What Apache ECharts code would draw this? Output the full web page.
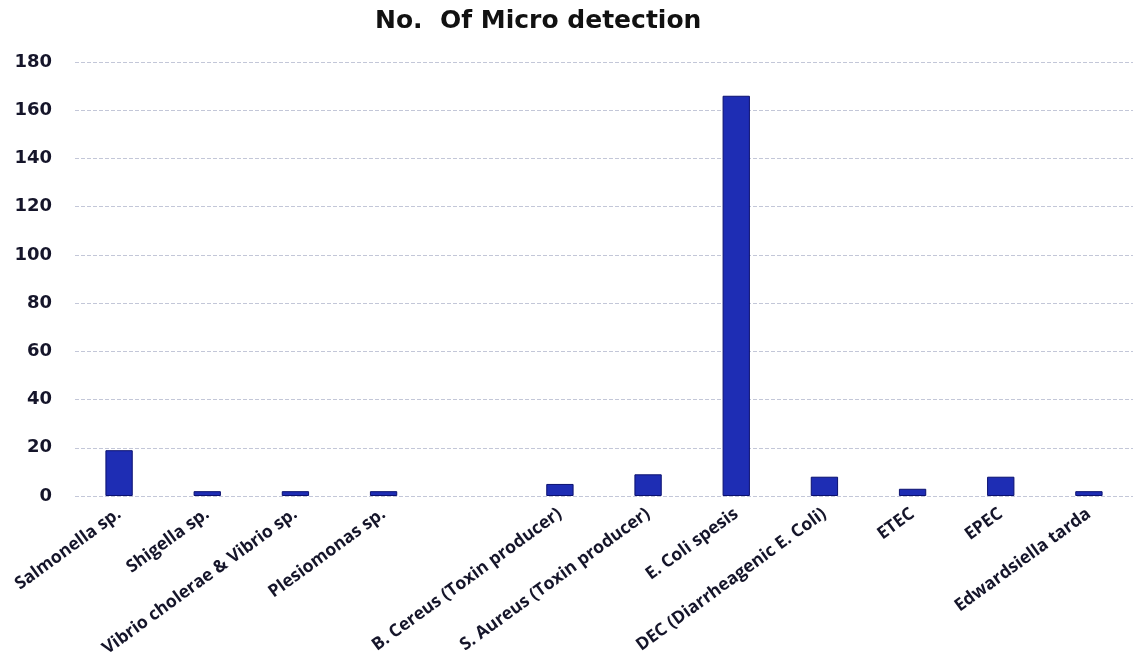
<!DOCTYPE html>
<html>
<head>
<meta charset="utf-8">
<script src="https://cdn.jsdelivr.net/npm/echarts@6/dist/echarts.min.js"></script>
<style>
  html,body{margin:0;padding:0;background:#fff;}
  #chart{width:1133px;height:666px;}
</style>
</head>
<body>
<div id="chart"></div>
<script>
// categories (one blank slot between Plesiomonas and B. Cereus, as in the source)
var categories = ['Salmonella sp.', 'Shigella sp.', 'Vibrio cholerae & Vibrio sp.', 'Plesiomonas sp.', '',
  'B. Cereus (Toxin producer)', 'S. Aureus (Toxin producer)', 'E. Coli spesis',
  'DEC (Diarrheagenic E. Coli)', 'ETEC', 'EPEC', 'Edwardsiella tarda']
var detections = [19, 2, 2, 2, null, 5, 9, 166, 8, 3, 8, 2]
var yTicks = [0, 20, 40, 60, 80, 100, 120, 140, 160, 180]

var chart = echarts.init(document.getElementById('chart'))
chart.setOption({
  animation: false,
  title: {
    text: 'No.  Of Micro detection',
    left: 370,
    top: 4,
    textStyle: {fontFamily: 'DejaVu Sans', fontWeight: 'bold', fontSize: 25, color: '#111'}
  },
  grid: {left: 75, right: 0, top: 62, bottom: 170, outerBoundsMode: 'none'},
  xAxis: {
    type: 'category',
    data: categories,
    axisLine: {show: false},
    axisTick: {show: false},
    axisLabel: {
      interval: 0,
      rotate: 36,
      margin: 16,
      fontFamily: 'Open Sans',
      fontWeight: 'bold',
      fontSize: 17.5,
      color: '#15152a'
    }
  },
  yAxis: {
    type: 'value',
    min: yTicks[0],
    max: yTicks[yTicks.length - 1],
    interval: 20,
    axisLine: {show: false},
    axisTick: {show: false},
    axisLabel: {
      margin: 23,
      fontFamily: 'DejaVu Sans',
      fontWeight: 'bold',
      fontSize: 18,
      color: '#15152a'
    },
    splitLine: {lineStyle: {color: '#c3c7d8', type: 'dashed', width: 1}}
  },
  series: [{
    type: 'bar',
    data: detections,
    barWidth: '31%',
    itemStyle: {color: '#1e2db4', borderColor: '#0b1170', borderWidth: 1}
  }]
})
</script>
</body>
</html>
